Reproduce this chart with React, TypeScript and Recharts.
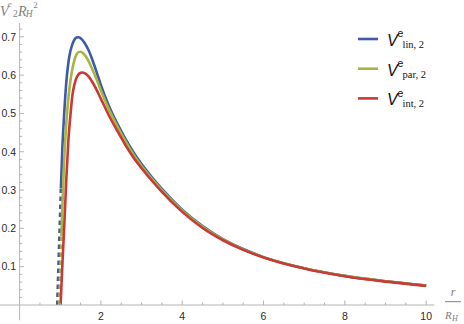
import React from 'react';
import { LineChart, Line, XAxis, YAxis, Legend, ReferenceLine } from 'recharts';

// ---- data ----
const linR = [1.016, 1.05, 1.1, 1.15, 1.2, 1.25, 1.3, 1.35, 1.4, 1.45, 1.5, 1.6, 1.7, 1.8, 1.9, 2.0, 2.2, 2.4, 2.6, 2.8, 3.0, 3.25, 3.5, 4.0, 4.5, 5.0, 5.5, 6.0, 7.0, 8.0, 9.0, 10.0];
const linV = [0.305, 0.405, 0.505, 0.583, 0.633, 0.663, 0.681, 0.693, 0.698, 0.699, 0.696, 0.684, 0.664, 0.637, 0.606, 0.574, 0.519, 0.474, 0.434, 0.399, 0.368, 0.334, 0.303, 0.249, 0.206, 0.172, 0.146, 0.125, 0.096, 0.076, 0.062, 0.051];
const linDashR = [0.925, 1.016];
const linDashV = [0.0, 0.305];

const parR = [1.03, 1.05, 1.1, 1.15, 1.2, 1.25, 1.3, 1.35, 1.4, 1.45, 1.5, 1.6, 1.7, 1.8, 1.9, 2.0, 2.2, 2.4, 2.6, 2.8, 3.0, 3.25, 3.5, 4.0, 4.5, 5.0, 5.5, 6.0, 7.0, 8.0, 9.0, 10.0];
const parV = [0.18, 0.25, 0.385, 0.475, 0.54, 0.585, 0.617, 0.640, 0.654, 0.660, 0.661, 0.653, 0.636, 0.612, 0.587, 0.560, 0.510, 0.467, 0.428, 0.393, 0.363, 0.330, 0.300, 0.247, 0.204, 0.171, 0.145, 0.125, 0.096, 0.076, 0.062, 0.051];
const parDashR = [0.974, 1.03];
const parDashV = [0.0, 0.18];

const intR = [1.008, 1.05, 1.1, 1.15, 1.2, 1.25, 1.3, 1.35, 1.4, 1.45, 1.5, 1.55, 1.6, 1.7, 1.8, 1.9, 2.0, 2.2, 2.4, 2.6, 2.8, 3.0, 3.25, 3.5, 4.0, 4.5, 5.0, 5.5, 6.0, 7.0, 8.0, 9.0, 10.0];
const intV = [0.0, 0.10, 0.21, 0.33, 0.43, 0.495, 0.548, 0.576, 0.593, 0.602, 0.606, 0.607, 0.605, 0.596, 0.580, 0.560, 0.538, 0.494, 0.455, 0.418, 0.385, 0.357, 0.325, 0.295, 0.243, 0.201, 0.169, 0.144, 0.124, 0.095, 0.075, 0.061, 0.050];

const seriesNames = ['lin, 2', 'par, 2', 'int, 2'];
const seriesColors = ['#3d5ba8', '#a6b63f', '#c93a36'];

const xMajorTicks = [2, 4, 6, 8, 10];
const xTickLabels = ['2', '4', '6', '8', '10'];
const xMinorTicks = [0.5, 1, 1.5, 2.5, 3, 3.5, 4.5, 5, 5.5, 6.5, 7, 7.5, 8.5, 9, 9.5];
const yMajorTicks = [0.1, 0.2, 0.3, 0.4, 0.5, 0.6, 0.7];
const yTickLabels = ['0.1', '0.2', '0.3', '0.4', '0.5', '0.6', '0.7'];
const yMinorTicks = [0.02, 0.04, 0.06, 0.08, 0.12, 0.14, 0.16, 0.18, 0.22, 0.24, 0.26, 0.28, 0.32, 0.34, 0.36, 0.38, 0.42, 0.44, 0.46, 0.48, 0.52, 0.54, 0.56, 0.58, 0.62, 0.64, 0.66, 0.68, 0.72];

const xDomain: [number, number] = [0, 10.2];
const yDomain: [number, number] = [0, 0.736];
const xAxisStart = -0.48;
const yAxisStart = -0.04;

const toPoints = (rs: number[], vs: number[]) => rs.map((r, i) => ({ r, v: vs[i] }));

const axisColor = '#b4b4b4';
const labelColor = '#2a2a2a';
const titleColor = '#7f7f7f';
const sansFont = '"Liberation Sans", Arial, sans-serif';
const serifFont = '"Liberation Serif", "Times New Roman", serif';

const findIndex = (arr: number[], v: number) => arr.findIndex((t) => Math.abs(t - v) < 1e-6);

const XTick = (props: any) => {
  const { x, y, payload } = props;
  const idx = findIndex(xMajorTicks, payload.value);
  const major = idx >= 0;
  return (
    <g>
      <line x1={x} y1={y} x2={x} y2={y - (major ? 4.5 : 2.5)} stroke={axisColor} strokeWidth={1} />
      {major && (
        <text x={x} y={y + 15} textAnchor="middle" fontSize={10.5} fill={labelColor} fontFamily={sansFont}>
          {xTickLabels[idx]}
        </text>
      )}
    </g>
  );
};

const YTick = (props: any) => {
  const { x, y, payload } = props;
  const idx = findIndex(yMajorTicks, payload.value);
  const major = idx >= 0;
  return (
    <g>
      <line x1={x} y1={y} x2={x + (major ? 4.5 : 2.5)} y2={y} stroke={axisColor} strokeWidth={1} />
      {major && (
        <text x={x - 3.5} y={y + 3.8} textAnchor="end" fontSize={10.5} fill={labelColor} fontFamily={sansFont}>
          {yTickLabels[idx]}
        </text>
      )}
    </g>
  );
};

const LegendContent = (props: any) => {
  const items = (props.payload || [])
    .filter((p: any) => seriesNames.includes(p.value))
    .sort((a: any, b: any) => seriesNames.indexOf(a.value) - seriesNames.indexOf(b.value));
  return (
    <svg width={110} height={92}>
      {items.map((item: any, i: number) => {
        const cy = 15 + i * 29.7;
        return (
          <g key={item.value}>
            <line x1={3} x2={23} y1={cy} y2={cy} stroke={item.color} strokeWidth={2.6} />
            <text x={32} y={cy + 7} fontSize={16} fontStyle="italic" fontFamily={sansFont} fill="#111">V</text>
            <text x={42.5} y={cy - 1.8} fontSize={10.5} fontFamily={sansFont} fill="#111">e</text>
            <text x={47.5} y={cy + 9} fontSize={10.5} fontFamily={serifFont} fill="#111">{item.value}</text>
          </g>
        );
      })}
    </svg>
  );
};

export default function App() {
  return (
    <div style={{ position: 'absolute', left: 0, top: 0, width: 464, height: 324, background: '#fff' }}>
      <LineChart width={464} height={324} margin={{ top: 23, right: 29.7, bottom: 0, left: 0 }}>
        <XAxis
          type="number"
          dataKey="r"
          domain={xDomain}
          ticks={[...xMinorTicks, ...xMajorTicks].sort((a, b) => a - b)}
          interval={0}
          tickSize={0}
          tickMargin={0}
          tickLine={false}
          tick={(p: any) => <XTick {...p} />}
          axisLine={{ stroke: axisColor, strokeWidth: 1 }}
          height={19}
          allowDataOverflow
        />
        <YAxis
          type="number"
          dataKey="v"
          domain={yDomain}
          ticks={[...yMinorTicks, ...yMajorTicks].sort((a, b) => a - b)}
          interval={0}
          tickSize={0}
          tickMargin={0}
          tickLine={false}
          tick={(p: any) => <YTick {...p} />}
          axisLine={{ stroke: axisColor, strokeWidth: 1 }}
          width={19.6}
          allowDataOverflow
        />
        <ReferenceLine
          segment={[{ x: xAxisStart, y: 0 }, { x: 0, y: 0 }]}
          stroke={axisColor}
          strokeWidth={1}
          ifOverflow="visible"
        />
        <ReferenceLine
          segment={[{ x: 0, y: yAxisStart }, { x: 0, y: 0 }]}
          stroke={axisColor}
          strokeWidth={1}
          ifOverflow="visible"
        />
        <Legend
          layout="vertical"
          align="center"
          verticalAlign="middle"
          content={(p: any) => <LegendContent {...p} />}
          wrapperStyle={{ position: 'absolute', left: 355, top: 24, width: 110, height: 92 }}
        />
        <Line data={toPoints(linDashR, linDashV)} dataKey="v" stroke={seriesColors[0]} strokeWidth={2.6} strokeDasharray="4.5 3.5" dot={false} isAnimationActive={false} legendType="none" name="linDash" />
        <Line data={toPoints(parDashR, parDashV)} dataKey="v" stroke={seriesColors[1]} strokeWidth={2.6} strokeDasharray="4.5 3.5" dot={false} isAnimationActive={false} legendType="none" name="parDash" />
        <Line data={toPoints(linR, linV)} dataKey="v" name={seriesNames[0]} type="monotone" stroke={seriesColors[0]} strokeWidth={2.6} dot={false} isAnimationActive={false} />
        <Line data={toPoints(parR, parV)} dataKey="v" name={seriesNames[1]} type="monotone" stroke={seriesColors[1]} strokeWidth={2.6} dot={false} isAnimationActive={false} />
        <Line data={toPoints(intR, intV)} dataKey="v" name={seriesNames[2]} type="monotone" stroke={seriesColors[2]} strokeWidth={2.6} dot={false} isAnimationActive={false} />
      </LineChart>
      <svg width={464} height={324} style={{ position: 'absolute', left: 0, top: 0, pointerEvents: 'none' }}>
        <g fill={titleColor}>
          <text x={0} y={15.5} fontSize={14} fontStyle="italic" fontFamily={serifFont}>V</text>
          <text x={7.8} y={7} fontSize={9} fontStyle="italic" fontFamily={serifFont}>e</text>
          <text x={12.9} y={17} fontSize={9.5} fontFamily={serifFont}>2</text>
          <text x={17.9} y={15.5} fontSize={14} fontStyle="italic" fontFamily={serifFont}>R</text>
          <text x={25.7} y={17} fontSize={9.5} fontStyle="italic" fontFamily={serifFont}>H</text>
          <text x={33.3} y={7.5} fontSize={9} fontFamily={serifFont}>2</text>
          <text x={453} y={295.5} fontSize={12} fontStyle="italic" fontFamily={serifFont} textAnchor="middle">r</text>
          <text x={445} y={319.3} fontSize={11} fontStyle="italic" fontFamily={serifFont}>R</text>
          <text x={452} y={321} fontSize={8} fontStyle="italic" fontFamily={serifFont}>H</text>
        </g>
        <line x1={445} x2={461} y1={301.7} y2={301.7} stroke={titleColor} strokeWidth={1} />
      </svg>
    </div>
  );
}
